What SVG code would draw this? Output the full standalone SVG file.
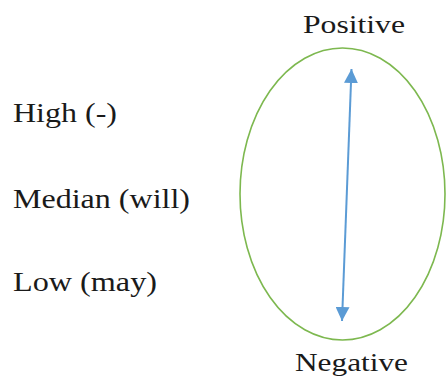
<svg xmlns="http://www.w3.org/2000/svg" width="446" height="378" viewBox="0 0 446 378">
  <style>
    text { fill: #1a1a1a; }
    .side { font-size: 28px; }
    .pole { font-size: 26px; }
  </style>
  <defs>
    <marker id="ah" viewBox="0 0 10 10" refX="10" refY="5" markerWidth="7" markerHeight="7" markerUnits="strokeWidth" orient="auto-start-reverse">
      <path d="M0,0 L10,5 L0,10 Z" fill="#5B9BD5"/>
    </marker>
  </defs>
  <rect width="446" height="378" fill="#ffffff"/>
  <g font-family="Liberation Serif, Times New Roman, Times, serif">
  <g id="high"><text class="side" x="13" y="122" textLength="104" lengthAdjust="spacingAndGlyphs">High (-)</text></g>
  <g id="median"><text class="side" x="13" y="208" textLength="177" lengthAdjust="spacingAndGlyphs">Median (will)</text></g>
  <g id="low"><text class="side" x="13" y="291" textLength="144" lengthAdjust="spacingAndGlyphs">Low (may)</text></g>
  <g id="positive"><text class="pole" x="303" y="33" textLength="102" lengthAdjust="spacingAndGlyphs">Positive</text></g>
  <g id="negative"><text class="pole" x="295" y="371" textLength="113" lengthAdjust="spacingAndGlyphs">Negative</text></g>
  </g>
  <g id="ellipse"><ellipse cx="342.5" cy="194" rx="102.5" ry="146" fill="none" stroke="#7DB84F" stroke-width="1.6"/></g>
  <g id="connectors">
    <line x1="351.5" y1="69" x2="342" y2="321" stroke="#5B9BD5" stroke-width="2" marker-start="url(#ah)" marker-end="url(#ah)"/>
  </g>
</svg>
